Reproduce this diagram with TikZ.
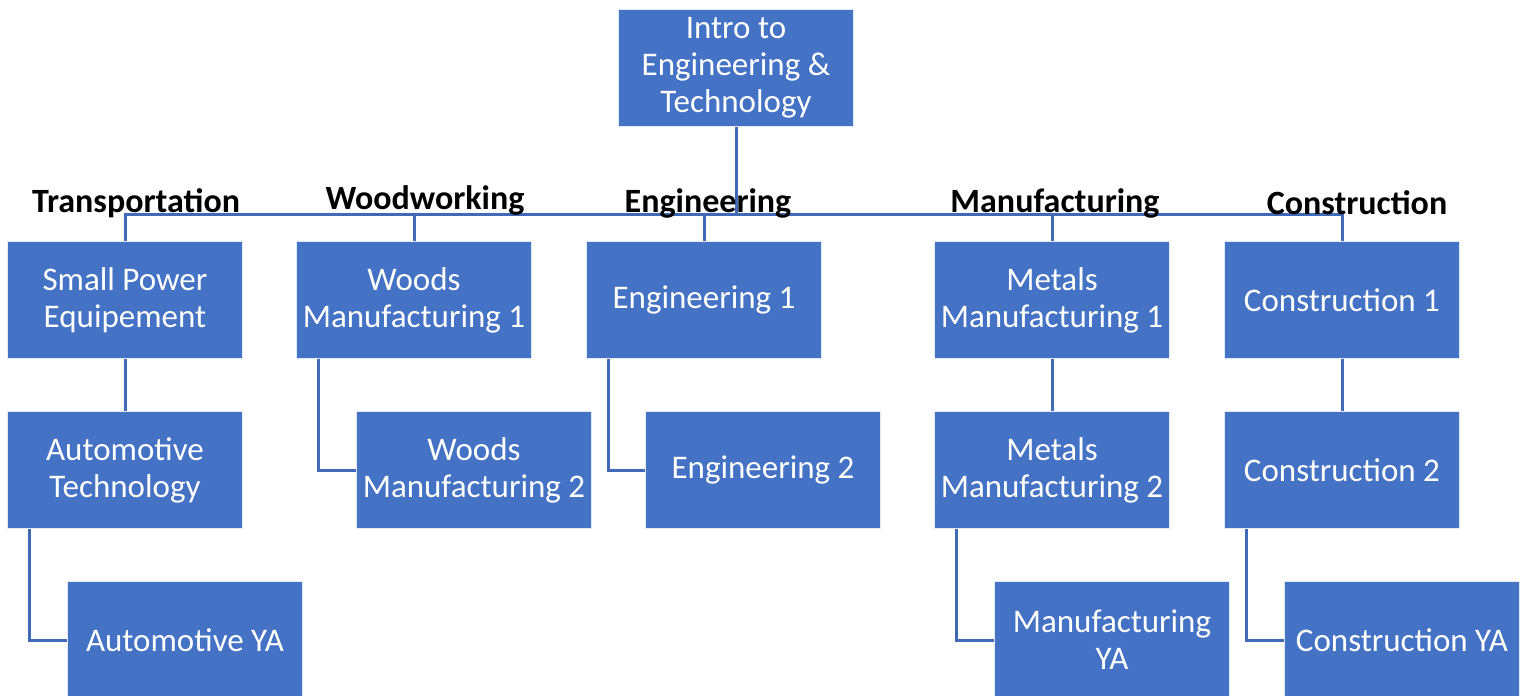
\documentclass[tikz,border=0pt]{standalone}
\usepackage{fontspec}
\setmainfont{Carlito}
\usetikzlibrary{positioning}
\definecolor{boxblue}{HTML}{4472C4}
\definecolor{lineblue}{HTML}{4069B8}

\tikzset{
  course/.style={fill=boxblue, draw=white!85!boxblue, line width=0.8pt, text=white,
    minimum width=235pt, minimum height=117pt, inner sep=0pt, align=center,
    font=\fontsize{33}{37}\selectfont},
  track/.style={font=\bfseries\fontsize{34}{38}\selectfont, text=black},
  link/.style={draw=lineblue, line width=3pt}
}

\begin{document}
\begin{tikzpicture}[x=1pt,y=-1pt]
  \useasboundingbox (0,0) rectangle (1527,696);
  % top
  \node[course] (intro) at (736,68) {Intro to\\Engineering \&\\Technology};
  % first row
  \node[course] (spe)  at (125,300)  {Small Power\\Equipement};
  \node[course] (wm1)  at (414,300)  {Woods\\Manufacturing 1};
  \node[course] (eng1) at (704,300)  {Engineering 1};
  \node[course] (mm1)  at (1052,300) {Metals\\Manufacturing 1};
  \node[course] (con1) at (1342,300) {Construction 1};
  % second row
  \node[course] (auto) at (125,470)  {Automotive\\Technology};
  \node[course] (wm2)  at (474,470)  {Woods\\Manufacturing 2};
  \node[course] (eng2) at (763,470)  {Engineering 2};
  \node[course] (mm2)  at (1052,470) {Metals\\Manufacturing 2};
  \node[course] (con2) at (1342,470) {Construction 2};
  % third row
  \node[course] (autoya) at (185,640)  {Automotive YA};
  \node[course] (manya)  at (1112,640) {Manufacturing\\YA};
  \node[course] (conya)  at (1402,640) {Construction YA};

  % bus
  \coordinate (bus) at (736,214);
  \draw[link] (intro.south) -- (bus);
  \draw[link] (spe.north) -- (spe.north |- bus) -- (con1.north |- bus) -- (con1.north);
  \foreach \n in {wm1,eng1,mm1}
    \draw[link] (\n.north) -- (\n.north |- bus);
  % straight links
  \draw[link] (spe.south) -- (auto.north);
  \draw[link] (mm1.south) -- (mm2.north);
  \draw[link] (con1.south) -- (con2.north);
  % elbow links
  \draw[link] ([xshift=22pt]wm1.south west) |- (wm2.west);
  \draw[link] ([xshift=22pt]eng1.south west) |- (eng2.west);
  \draw[link] ([xshift=22pt]auto.south west) |- (autoya.west);
  \draw[link] ([xshift=22pt]mm2.south west) |- (manya.west);
  \draw[link] ([xshift=22pt]con2.south west) |- (conya.west);

  % track labels
  \node[track] (ltrans) at (136,203)  {Transportation};
  \node[track] (lwood)  at (425,200)  {Woodworking};
  \node[track] (leng)   at (708,203)  {Engineering};
  \node[track] (lman)   at (1055,203) {Manufacturing};
  \node[track] (lcon)   at (1357,203) {Construction};
\end{tikzpicture}
\end{document}
